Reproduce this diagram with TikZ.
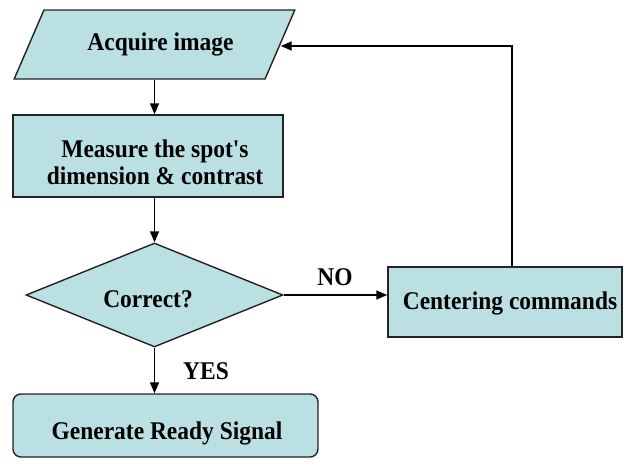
\documentclass[tikz,border=0pt]{standalone}
\usepackage{fontspec}
\setmainfont[FakeStretch=0.92,Ligatures=TeXOff]{Liberation Serif}
\usetikzlibrary{shapes.geometric,arrows.meta}
\definecolor{boxfill}{RGB}{187,224,228}
\definecolor{boxline}{RGB}{35,35,35}
\tikzset{
  every node/.style={font=\fontsize{25.5}{27}\selectfont\bfseries},
  flowbox/.style={draw=boxline, fill=boxfill, line width=1.4pt, inner sep=2pt},
  txt/.style={inner sep=0pt, align=center},
  link/.style={line width=1.4pt, draw=black, -{Triangle[length=11pt,width=9pt]}}
}
\begin{document}
\begin{tikzpicture}[x=1pt,y=-1pt]
  \useasboundingbox (0,0) rectangle (624,466);

  % input step (parallelogram)
  \node[flowbox, trapezium, trapezium left angle=51.4, trapezium right angle=128.6,
        trapezium stretches=true, minimum width=281, minimum height=69]
        (acquire) at (154.5,44.5) {\hspace*{12pt}\raisebox{-2pt}{Acquire image}};

  % measurement step
  \node[flowbox, minimum width=270, minimum height=82] (measure) at (148,156) {};
  \node[txt] (measureText) at (155,162) {Measure the spot's\\dimension \& contrast};

  % decision
  \node[flowbox, diamond, aspect=2.47, minimum width=257, minimum height=104]
        (decide) at (154.5,295) {};
  \node[txt] (decideText) at (148,299) {Correct?};

  % correction branch
  \node[flowbox, minimum width=234, minimum height=70] (center) at (505,302) {};
  \node[txt] (centerText) at (510,303) {Centering commands};

  % final step
  \node[flowbox, rounded corners=8pt, minimum width=305, minimum height=63]
        (ready) at (165.5,425.5) {};
  \node[txt] (readyText) at (167,433) {Generate Ready Signal};

  % branch labels
  \node[txt] (noLabel) at (335,277) {NO};
  \node[txt] (yesLabel) at (206,371) {YES};

  % connectors
  \draw[link] (acquire.south) -- (acquire.south |- measure.north);
  \draw[link] (measure.south -| decide.north) -- (decide.north);
  \draw[link] (decide.south) -- (decide.south |- ready.north);
  \draw[link] (decide.east) -- (decide.east -| center.west);

  \coordinate (turn) at (512,46);
  \draw[link] (turn |- center.north) -- (turn) -- (turn -| acquire.east);
\end{tikzpicture}
\end{document}
